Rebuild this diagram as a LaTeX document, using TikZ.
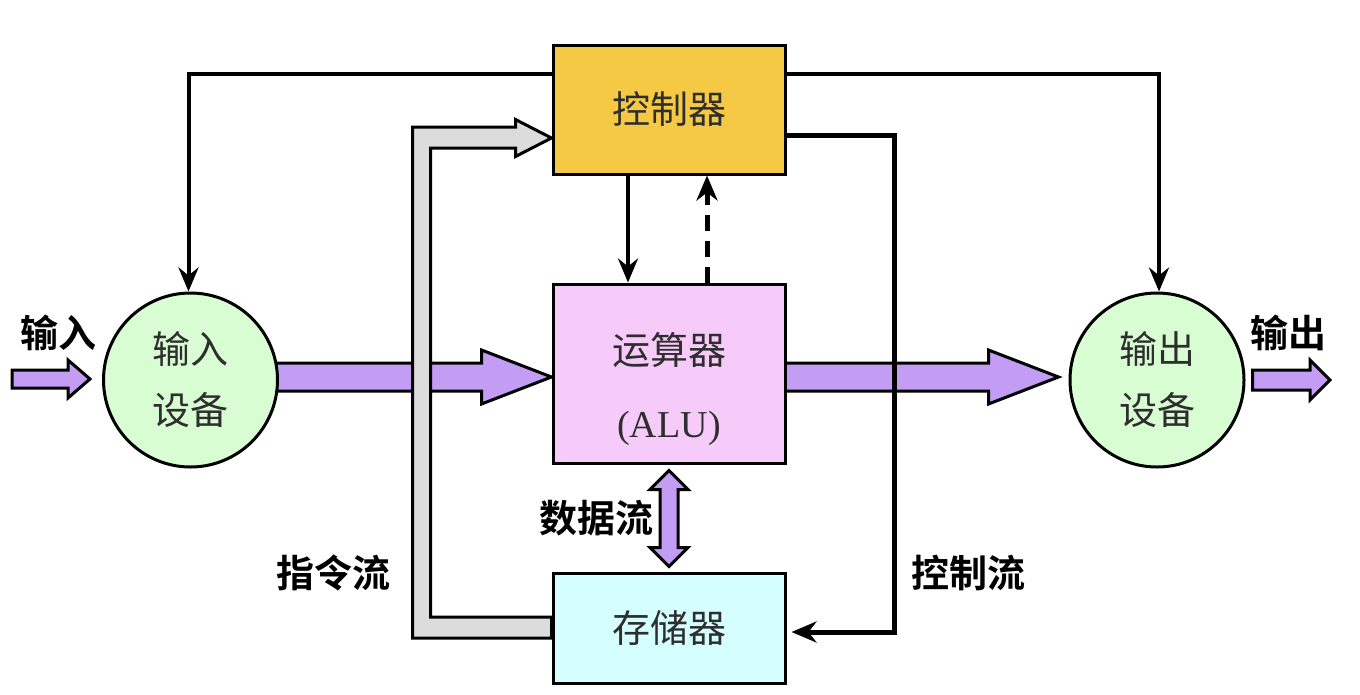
\documentclass[tikz,border=0pt]{standalone}
\usepackage{fontspec}
\setmainfont{Liberation Serif}
\newfontfamily\cjk{Noto Sans CJK SC}[BoldFont={Noto Sans CJK SC Bold}]
\usetikzlibrary{arrows.meta,calc,backgrounds}
\definecolor{ctrlyellow}{HTML}{F5C944}
\definecolor{alupink}{HTML}{F6CBFA}
\definecolor{memcyan}{HTML}{D5FEFF}
\definecolor{devgreen}{HTML}{D9FDD3}
\definecolor{flowpurple}{HTML}{C39CF4}
\definecolor{busgray}{HTML}{DCDCDC}
\definecolor{txtgray}{HTML}{2E2E2E}
\newcommand\fatH[5]{\draw[fatpurple] ($(#1 |- #2)+(0,#3)$) -- ($(#2)+(-#5,#3)$) -- ($(#2)+(-#5,#4)$) -- (#2) -- ($(#2)+(-#5,-#4)$) -- ($(#2)+(-#5,-#3)$) -- ($(#1 |- #2)+(0,-#3)$) -- cycle;}
\tikzset{
  unitbox/.style={draw, line width=3pt, minimum width=232pt, inner sep=0pt, text=txtgray,
    font=\cjk\fontsize{38pt}{61pt}\selectfont, align=center},
  device/.style={circle, draw, line width=3pt, fill=devgreen, minimum size=174pt, inner sep=0pt,
    text=txtgray, font=\cjk\fontsize{38pt}{61pt}\selectfont, align=center},
  flowlabel/.style={font=\cjk\bfseries\fontsize{38pt}{44pt}\selectfont, text=black, inner sep=0pt},
  fatpurple/.style={draw, line width=3pt, fill=flowpurple, line join=miter},
  fatgray/.style={draw, line width=3pt, fill=busgray, line join=miter},
  ctlline/.style={line width=4pt, -{Stealth[length=24pt,width=20pt,inset=8pt]}},
  ctlthick/.style={line width=5pt, -{Stealth[length=25pt,width=21pt,inset=8pt]}},
}
\begin{document}
\begin{tikzpicture}[x=1pt,y=-1pt]
\useasboundingbox (0,0) rectangle (1360,694);

% units
\node[unitbox, fill=ctrlyellow, minimum height=129pt] (ctrl) at (669,109.5) {控制器};
\node[unitbox, fill=alupink, minimum height=179pt] (alu) at (669,373.5) {};
\node[text=txtgray, align=center, font=\fontsize{38pt}{73pt}\selectfont, inner sep=0pt] (alutext) at ($(alu.center)+(0,15)$) {{\cjk 运算器}\\(ALU)};
\node[unitbox, fill=memcyan, minimum height=110pt] (mem) at (669,628) {存储器};
\node[device] (in) at (190.5,380) {输入\\设备};
\node[device] (out) at (1157,380) {输出\\设备};

% labels
\node[flowlabel] (lin) at (58,333) {输入};
\node[flowlabel] (lout) at (1288,333) {输出};
\node[flowlabel] (ldata) at (596,518) {数据流};
\node[flowlabel] (linstr) at (333,573) {指令流};
\node[flowlabel] (lctrl) at (968,573) {控制流};

% purple data arrows (behind units)
\begin{pgfonlayer}{background}
\fill[white] (0,0) rectangle (1360,694);
\coordinate (aluin) at ($(alu.west)+(0,3.5)$);
\coordinate (outin) at ($(out.west)+(-10,-3)$);
\fatH{in.center}{aluin}{14}{27}{70}
\fatH{alu.center}{outin}{14}{27}{70}
\end{pgfonlayer}

% small input / output arrows
\coordinate (srcin) at (12,379);
\coordinate (tipin) at ($(in.west)+(-12,-1)$);
\fatH{srcin}{tipin}{9}{19}{22}
\coordinate (srcout) at ($(out.east)+(7,0)$);
\coordinate (tipout) at (1330,380);
\fatH{srcout}{tipout}{10}{20}{20}

% instruction flow (gray bus)
\draw[fatgray] ($(mem.west)+(0,10)$) -- ($(mem.west)+(-139,10)$) -- ($(ctrl.west)+(-139,17.5)$)
  -- ($(ctrl.west)+(-36,17.5)$) -- ($(ctrl.west)+(-36,10)$) -- ($(ctrl.west)+(0,28.5)$)
  -- ($(ctrl.west)+(-36,47)$) -- ($(ctrl.west)+(-36,38.5)$) -- ($(ctrl.west)+(-121,38.5)$)
  -- ($(mem.west)+(-121,-11)$) -- ($(mem.west)+(0,-11)$) -- cycle;

% data flow double arrow
\draw[fatpurple] ($(alu.south)+(0,6)$) -- ++(19,19) -- ++(-10,0) -- ($(mem.north)+(9,-24)$)
  -- ++(10,0) -- ($(mem.north)+(0,-5)$) -- ++(-19,-19) -- ++(10,0) -- ($(alu.south)+(-9,25)$)
  -- ++(-10,0) -- cycle;

% control lines
\draw[ctlline] ($(ctrl.north west)+(0,30)$) -| ($(in.north)+(-2,0)$);
\draw[ctlline] ($(ctrl.north east)+(0,30)$) -| ($(out.north)+(2,0)$);
\draw[ctlline] ($(ctrl.south)+(-41,0)$) -- ($(alu.north)+(-41,0)$);
\draw[ctlthick, dash pattern=on 16pt off 10pt] ($(alu.north)+(38,0)$) -- ($(ctrl.south)+(38,0)$);
\draw[ctlthick] ($(ctrl.north east)+(0,92)$) -| ($(mem.east)+(108,4)$) -- ($(mem.east)+(5,4)$);
\end{tikzpicture}
\end{document}
